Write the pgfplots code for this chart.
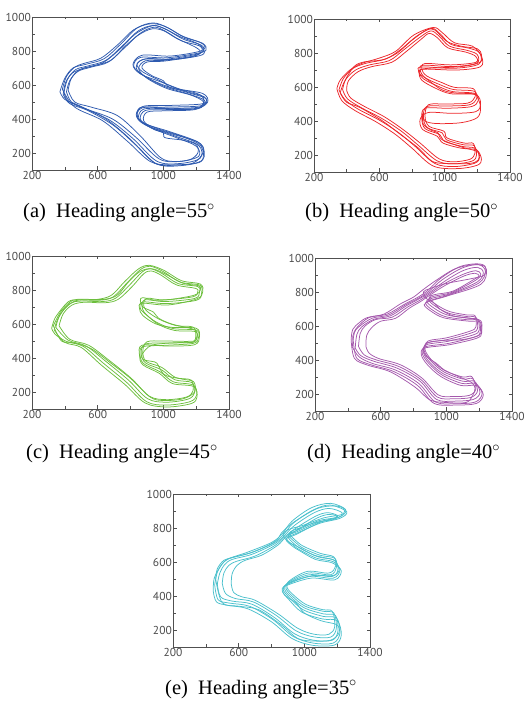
\documentclass[border=0pt]{standalone}
\usepackage{fontspec}
\usepackage{pgfplots}
\pgfplotsset{compat=1.18}
\setmainfont{Liberation Serif}
\newfontfamily\ticksf{PT Sans}
\definecolor{cblue}{RGB}{46,90,175}
\definecolor{cred}{RGB}{236,38,42}
\definecolor{cgreen}{RGB}{108,190,60}
\definecolor{cpurple}{RGB}{164,88,172}
\definecolor{ccyan}{RGB}{75,192,204}
\definecolor{axgray}{RGB}{80,80,80}
\definecolor{lblgray}{RGB}{75,75,75}
\pgfplotsset{
  traj/.style={
    scale only axis, width=197pt, height=153pt,
    xmin=200, xmax=1400, ymin=100, ymax=1000,
    xtick={200,600,1000,1400}, minor xtick={400,800,1200},
    ytick={200,400,600,800,1000}, minor ytick={300,500,700,900},
    tick align=inside, major tick length=3.5pt, minor tick length=2.5pt,
    axis line style={axgray, line width=0.9pt},
    every tick/.style={axgray, line width=0.5pt},
    tick label style={font=\ticksf\fontsize{11.5}{11.5}\selectfont, text=lblgray},
    /pgf/number format/assume math mode=true,
    /pgf/number format/set thousands separator={},
    yticklabel style={inner xsep=1pt},
    xticklabel style={inner ysep=1.5pt},
    anchor=south west,
    every axis plot/.append style={smooth, tension=0.55, line width=0.75pt, no marks},
  },
}
\tikzset{subcap/.style={anchor=base west, font=\fontsize{20.5}{24}\selectfont, inner sep=0pt}}
\newcommand{\heading}[2]{(#1)\hspace{0.5em}Heading angle=#2$^\circ$}
\begin{document}
\begin{tikzpicture}
\useasboundingbox (0pt,0pt) rectangle (524pt,706pt);

% (a)
\begin{axis}[traj, at={(32pt,536pt)}]
\addplot[cblue] coordinates {(370,560) (400,640) (450,700) (530,722) (640,755) (740,840) (840,935) (940,965) (1030,935) (1130,880) (1240,845) (1260,805) (1200,785) (1020,760) (860,762) (820,710) (880,655) (1000,600) (1150,555) (1260,520) (1230,478) (1020,470) (870,465) (840,410) (900,360) (1060,310) (1225,255) (1240,160) (1100,125) (950,140) (800,280) (650,400) (480,482) (400,515) (370,560)};
\addplot[cblue] coordinates {(395,555) (415,630) (465,690) (540,712) (650,745) (750,830) (850,920) (940,950) (1020,925) (1120,870) (1230,835) (1245,800) (1190,778) (1020,752) (875,750) (835,700) (890,650) (1010,590) (1160,545) (1250,510) (1220,470) (1020,462) (880,458) (850,405) (910,358) (1070,300) (1215,245) (1225,170) (1100,138) (960,152) (815,285) (670,395) (500,470) (420,505) (395,555)};
\addplot[cblue] coordinates {(410,560) (430,625) (480,680) (560,705) (665,735) (765,820) (860,905) (945,940) (1015,915) (1110,860) (1220,830) (1235,795) (1180,770) (1010,745) (890,742) (850,695) (900,640) (1020,580) (1170,540) (1245,500) (1210,460) (1010,455) (890,450) (860,400) (920,350) (1080,290) (1200,240) (1215,180) (1095,150) (975,165) (830,295) (690,400) (520,462) (440,500) (410,560)};
\addplot[cblue] coordinates {(385,575) (410,650) (460,705) (520,728) (620,758) (720,835) (820,925) (920,960) (1010,945) (1110,890) (1225,850) (1255,820) (1210,795) (1040,770) (870,775) (815,720) (860,665) (980,620) (1130,565) (1250,530) (1240,490) (1050,480) (880,475) (835,425) (880,375) (1040,325) (1210,265) (1245,210) (1180,140) (1040,130) (920,150) (780,270) (630,390) (460,470) (385,575)};
\addplot[cblue] coordinates {(390,545) (405,615) (445,670) (520,700) (630,730) (735,810) (830,900) (930,948) (1000,935) (1100,885) (1215,840) (1250,790) (1200,768) (1050,750) (900,755) (840,725) (870,680) (960,635) (1080,580) (1240,550) (1270,500) (1200,462) (1000,465) (870,470) (840,435) (860,390) (960,345) (1120,295) (1230,240) (1230,150) (1080,130) (960,135) (840,240) (700,360) (540,450) (430,490) (390,545)};
\addplot[cblue] coordinates {(420,570) (440,640) (490,690) (570,712) (680,745) (770,830) (850,895) (930,930) (1000,920) (1080,875) (1200,820) (1225,790) (1170,765) (1000,740) (900,735) (870,700) (930,655) (1000,625) (1040,585) (1170,560) (1235,535) (1245,495) (1190,455) (1000,448) (900,440) (880,390) (940,340) (1000,320) (1010,290) (1120,275) (1200,250) (1210,200) (1160,160) (1060,150) (980,175) (860,300) (720,420) (560,470) (460,500) (420,570)};
\end{axis}

% (b)
\begin{axis}[traj, at={(314pt,534pt)}, width=196pt]
\addplot[cred] coordinates {(353,583) (380,650) (440,710) (520,740) (640,765) (730,820) (830,900) (920,945) (975,910) (1040,850) (1150,828) (1215,800) (1210,735) (1060,710) (860,718) (840,695) (870,648) (970,600) (1050,573) (1185,562) (1205,520) (1165,485) (1020,475) (880,475) (860,418) (880,355) (970,320) (1000,280) (1110,250) (1185,240) (1215,190) (1185,152) (1060,132) (940,150) (820,250) (720,330) (600,405) (470,470) (390,525) (353,583)};
\addplot[cred] coordinates {(375,585) (395,645) (455,700) (540,730) (660,755) (745,815) (845,890) (915,930) (965,900) (1030,840) (1140,815) (1200,790) (1195,740) (1050,720) (870,728) (850,700) (880,655) (975,612) (1055,585) (1180,575) (1195,530) (1150,495) (1010,488) (890,485) (870,420) (895,360) (985,330) (1010,290) (1115,260) (1180,255) (1195,200) (1170,165) (1060,148) (955,165) (835,260) (735,340) (615,415) (490,478) (405,530) (375,585)};
\addplot[cred] coordinates {(400,580) (410,635) (470,690) (555,720) (675,745) (760,805) (855,880) (905,915) (955,890) (1020,830) (1130,805) (1190,780) (1190,745) (1040,730) (880,738) (860,705) (890,665) (985,625) (1060,598) (1175,590) (1185,540) (1140,505) (1000,500) (900,495) (880,425) (905,368) (995,340) (1015,300) (1120,270) (1175,268) (1185,210) (1155,175) (1055,160) (965,178) (850,270) (745,350) (630,425) (510,485) (425,535) (400,580)};
\addplot[cred] coordinates {(340,590) (360,640) (420,700) (490,738) (600,770) (700,810) (810,905) (930,950) (985,920) (1060,860) (1170,840) (1225,780) (1220,720) (1080,700) (880,705) (845,690) (860,640) (950,590) (1040,560) (1190,555) (1220,500) (1190,455) (1050,445) (900,450) (850,410) (865,350) (955,310) (990,270) (1100,240) (1195,230) (1225,175) (1200,140) (1080,120) (930,135) (800,240) (700,320) (580,395) (450,462) (370,520) (340,590)};
\addplot[cred] coordinates {(360,565) (385,630) (445,720) (510,748) (620,760) (710,800) (800,875) (890,935) (940,935) (1010,870) (1100,840) (1200,825) (1225,790) (1215,745) (1100,720) (900,710) (850,700) (845,680) (900,640) (980,585) (1060,565) (1175,560) (1200,540) (1220,480) (1200,420) (1100,390) (950,385) (880,400) (865,440) (870,380) (920,345) (960,330) (985,290) (1110,245) (1170,230) (1205,215) (1205,170) (1150,150) (1000,150) (920,165) (840,240) (730,320) (620,400) (480,480) (400,510) (360,565)};
\end{axis}

% (c)
\begin{axis}[traj, at={(32pt,297pt)}]
\addplot[cgreen] coordinates {(320,575) (330,610) (350,650) (420,730) (480,742) (614,740) (695,760) (777,840) (858,918) (919,940) (1000,908) (1101,847) (1223,828) (1233,781) (1203,740) (1020,720) (878,730) (858,700) (878,669) (959,610) (1061,573) (1203,563) (1213,516) (1182,486) (1020,475) (878,467) (858,427) (878,368) (980,319) (1061,260) (1182,241) (1203,182) (1162,143) (1020,123) (898,143) (777,256) (634,370) (513,468) (411,497) (340,540) (320,575)};
\addplot[cgreen] coordinates {(345,580) (370,655) (430,720) (500,735) (630,732) (710,752) (795,830) (870,905) (920,925) (990,898) (1090,838) (1210,820) (1220,785) (1190,750) (1010,732) (890,742) (870,705) (890,662) (970,598) (1070,562) (1195,555) (1205,515) (1170,492) (1010,488) (890,482) (865,430) (890,372) (990,330) (1070,272) (1175,255) (1190,195) (1150,158) (1020,140) (905,160) (790,268) (650,380) (530,470) (420,505) (345,580)};
\addplot[cgreen] coordinates {(365,590) (390,660) (445,712) (520,728) (645,725) (725,745) (810,820) (880,895) (925,912) (985,888) (1080,830) (1195,810) (1210,790) (1180,760) (1000,742) (900,752) (880,720) (895,680) (975,628) (1080,590) (1185,580) (1195,510) (1160,498) (1000,500) (900,495) (875,440) (895,380) (990,345) (1075,285) (1170,270) (1180,205) (1140,170) (1020,155) (915,175) (805,280) (665,390) (545,475) (430,510) (365,590)};
\addplot[cgreen] coordinates {(335,565) (355,625) (400,690) (470,738) (600,745) (685,770) (765,850) (850,925) (915,945) (1005,915) (1110,855) (1225,835) (1240,790) (1205,748) (1030,712) (870,722) (855,690) (875,650) (955,600) (1055,580) (1200,575) (1220,525) (1190,478) (1030,470) (870,475) (855,415) (875,360) (975,310) (1055,250) (1185,232) (1205,170) (1170,132) (1025,112) (890,135) (765,245) (620,360) (500,462) (400,492) (335,565)};
\addplot[cgreen] coordinates {(330,590) (380,680) (450,740) (520,745) (640,745) (720,770) (790,850) (860,910) (930,925) (1010,895) (1120,840) (1215,825) (1225,800) (1190,770) (1050,745) (950,740) (875,755) (860,740) (875,700) (940,670) (970,635) (1050,600) (1180,570) (1205,545) (1195,500) (1160,490) (1080,490) (930,475) (870,420) (880,390) (930,380) (960,370) (990,320) (1020,295) (1120,275) (1185,260) (1190,200) (1120,160) (1000,150) (920,170) (800,280) (680,370) (560,455) (450,490) (380,500) (330,590)};
\end{axis}

% (d)
\begin{axis}[traj, at={(315pt,295pt)}]
\addplot[cpurple] coordinates {(427,478) (440,560) (468,596) (549,646) (650,665) (751,724) (832,764) (893,803) (975,872) (1096,941) (1197,961) (1238,921) (1197,852) (1015,783) (914,754) (873,734) (914,695) (995,655) (1137,636) (1197,636) (1207,567) (1177,537) (1015,498) (873,478) (853,439) (893,380) (975,311) (1096,262) (1177,262) (1218,203) (1177,153) (1055,143) (934,153) (832,262) (690,341) (549,380) (468,419) (427,478)};
\addplot[cpurple] coordinates {(445,470) (455,550) (485,595) (560,640) (660,660) (755,718) (835,760) (895,795) (985,860) (1100,925) (1190,945) (1225,915) (1190,860) (1025,790) (920,765) (880,745) (925,705) (1005,665) (1140,645) (1190,640) (1200,575) (1165,548) (1010,510) (880,490) (860,445) (900,385) (980,320) (1100,275) (1170,275) (1205,210) (1165,168) (1050,158) (940,168) (840,275) (700,352) (560,392) (480,425) (445,470)};
\addplot[cpurple] coordinates {(465,480) (475,555) (505,600) (570,638) (670,652) (765,712) (840,752) (900,790) (990,850) (1105,905) (1180,925) (1210,905) (1180,870) (1035,798) (925,775) (890,755) (935,715) (1015,675) (1130,655) (1180,652) (1190,585) (1155,560) (1005,520) (885,502) (865,455) (905,395) (985,330) (1100,288) (1160,290) (1190,220) (1150,180) (1045,172) (945,182) (845,285) (710,362) (575,400) (500,430) (465,480)};
\addplot[cpurple] coordinates {(435,500) (430,540) (455,590) (530,650) (640,670) (745,728) (828,770) (888,810) (965,880) (1085,950) (1205,965) (1245,930) (1210,845) (1010,778) (905,748) (865,725) (905,688) (985,648) (1140,628) (1205,625) (1215,560) (1185,528) (1020,490) (868,470) (848,430) (885,372) (968,302) (1090,250) (1185,250) (1225,195) (1185,145) (1060,135) (925,145) (825,250) (680,332) (540,372) (455,410) (435,500)};
\addplot[cpurple] coordinates {(510,480) (515,545) (545,590) (600,628) (690,645) (775,705) (845,745) (905,785) (995,840) (1110,895) (1175,910) (1200,895) (1170,875) (1040,805) (930,785) (895,765) (940,725) (1020,685) (1125,665) (1175,660) (1180,595) (1145,570) (1000,530) (890,512) (870,462) (910,400) (990,338) (1100,300) (1155,302) (1180,230) (1140,192) (1040,185) (950,195) (850,295) (720,372) (590,408) (530,440) (510,480)};
\addplot[cpurple] coordinates {(420,520) (430,580) (470,620) (520,650) (620,670) (720,730) (800,770) (860,815) (940,870) (1050,935) (1160,960) (1235,950) (1230,900) (1160,880) (1000,850) (900,820) (860,800) (880,760) (920,740) (960,700) (1040,660) (1150,645) (1210,630) (1215,580) (1200,545) (1100,520) (980,515) (885,500) (860,460) (880,420) (940,380) (990,340) (1080,300) (1150,270) (1175,235) (1160,190) (1120,150) (1000,150) (900,165) (810,240) (660,330) (520,370) (440,410) (420,520)};
\end{axis}

% (e)
\begin{axis}[traj, at={(173pt,59pt)}]
\addplot[ccyan] coordinates {(454,466) (470,540) (500,590) (546,622) (668,652) (810,710) (871,759) (932,828) (1054,906) (1156,935) (1258,896) (1217,857) (1095,828) (953,769) (892,740) (930,700) (973,671) (1075,622) (1176,602) (1217,554) (1176,505) (1034,515) (892,466) (871,437) (912,387) (993,319) (1115,280) (1197,270) (1217,182) (1176,123) (1054,123) (932,162) (810,260) (668,339) (546,358) (475,378) (454,466)};
\addplot[ccyan] coordinates {(470,470) (485,535) (515,585) (560,615) (680,645) (815,705) (875,752) (940,815) (1060,890) (1150,915) (1230,890) (1205,860) (1090,835) (960,780) (900,752) (940,705) (985,675) (1085,630) (1180,612) (1205,560) (1170,515) (1030,525) (900,475) (880,440) (920,392) (1000,330) (1115,295) (1190,285) (1205,195) (1170,140) (1055,140) (940,178) (820,272) (680,352) (560,370) (490,395) (470,470)};
\addplot[ccyan] coordinates {(500,475) (510,535) (540,580) (590,605) (700,635) (825,700) (880,748) (950,800) (1070,870) (1140,890) (1200,875) (1185,860) (1085,842) (965,790) (905,760) (950,712) (995,680) (1095,640) (1185,622) (1195,568) (1160,525) (1025,535) (905,482) (888,445) (928,398) (1005,340) (1115,310) (1180,300) (1195,210) (1160,158) (1055,160) (950,195) (830,285) (690,365) (580,385) (520,415) (500,475)};
\addplot[ccyan] coordinates {(445,430) (450,500) (480,560) (530,615) (655,658) (800,715) (865,765) (925,840) (1045,920) (1160,945) (1250,910) (1225,870) (1100,835) (950,762) (888,735) (925,695) (968,668) (1068,615) (1170,595) (1225,548) (1185,495) (1040,505) (888,460) (865,430) (905,380) (985,305) (1110,265) (1200,255) (1225,170) (1185,112) (1050,110) (925,150) (800,248) (655,325) (535,345) (465,365) (445,430)};
\addplot[ccyan] coordinates {(460,500) (470,560) (510,610) (570,628) (690,660) (820,720) (860,770) (890,800) (960,850) (1080,915) (1180,930) (1240,915) (1230,880) (1120,860) (990,815) (900,790) (870,760) (900,720) (960,690) (1060,640) (1170,615) (1200,590) (1210,545) (1170,520) (1050,520) (940,490) (880,460) (870,420) (900,390) (950,360) (1000,300) (1100,255) (1200,230) (1210,180) (1160,140) (1060,135) (960,150) (860,230) (720,320) (600,340) (500,360) (460,500)};
\addplot[ccyan] coordinates {(555,470) (560,530) (590,580) (640,610) (740,640) (840,700) (885,745) (960,790) (1080,860) (1150,880) (1195,870) (1180,850) (1080,835) (970,800) (910,770) (955,720) (1000,690) (1100,650) (1180,630) (1190,575) (1150,535) (1020,545) (910,490) (895,450) (935,405) (1010,350) (1110,320) (1170,310) (1185,220) (1150,175) (1060,175) (960,210) (840,295) (700,375) (620,395) (570,420) (555,470)};
\end{axis}

\node[subcap] at (23pt,488pt) {\heading{a}{55}};
\node[subcap] at (305pt,488pt) {\heading{b}{50}};
\node[subcap] at (26pt,247pt) {\heading{c}{45}};
\node[subcap] at (307pt,247pt) {\heading{d}{40}};
\node[subcap] at (165pt,12pt) {\heading{e}{35}};
\end{tikzpicture}
\end{document}
